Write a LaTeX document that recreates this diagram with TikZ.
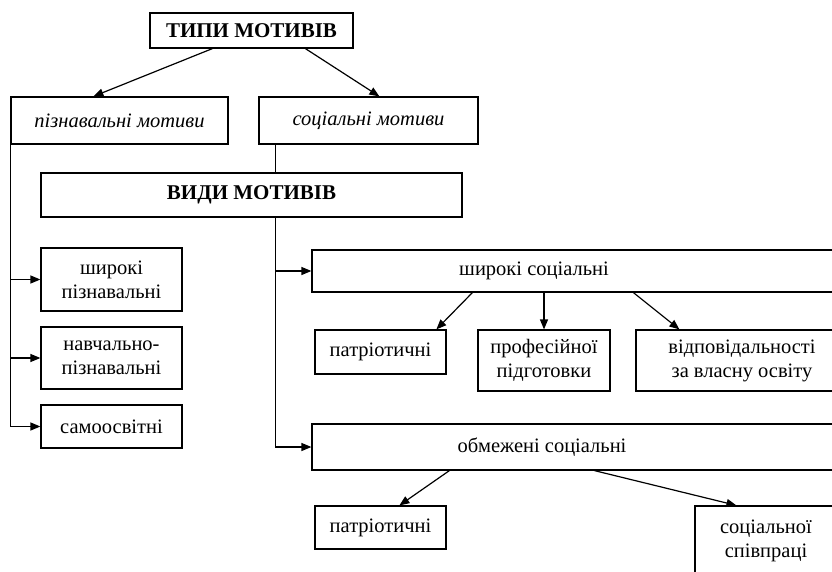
\documentclass[tikz,border=0pt]{standalone}
\usepackage{fontspec}
\setmainfont{Liberation Serif}
\usetikzlibrary{arrows.meta,calc}
\begin{document}
\begin{tikzpicture}[x=1pt,y=-1pt,
  box/.style={draw, line width=1.2pt, inner sep=2pt, align=center, font=\fontsize{20.5}{24}\selectfont},
  big/.style={font=\fontsize{21}{24}\selectfont\bfseries},
  ital/.style={font=\fontsize{20.5}{24}\selectfont\itshape},
  arr/.style={line width=1.2pt, -{Triangle[length=10pt,width=8pt]}},
  ln/.style={line width=1.2pt}]
\clip (0,0) rectangle (832,572);
% level 1
\node[box, big, minimum width=203pt, minimum height=35pt] (tipy) at (251.5,30.5) {ТИПИ МОТИВІВ};
\node[box, ital, minimum width=217pt, minimum height=47pt] (pizn) at (119.5,120.5) {пізнавальні мотиви};
\node[box, ital, minimum width=219pt, minimum height=47pt] (soc) at (368.5,120.5) {соціальні мотиви};
\node[box, big, minimum width=421pt, minimum height=44pt] (vydy) at (251.5,195) {ВИДИ МОТИВІВ};
% left column
\node[box, minimum width=141pt, minimum height=63pt] (shp) at (111.5,279.5) {широкі\\пізнавальні};
\node[box, minimum width=141pt, minimum height=62pt] (nav) at (111.5,358) {навчально-\\пізнавальні};
\node[box, minimum width=141pt, minimum height=43pt] (sam) at (111.5,426.5) {самоосвітні};
% right part
\node[box, inner xsep=0pt, minimum width=558pt, minimum height=42pt] (ws) at (591,271)
  {\makebox[558pt][l]{\makebox[444pt]{широкі соціальні}}};
\node[box, minimum width=131pt, minimum height=44pt] (pat1) at (380.5,352) {патріотичні};
\node[box, minimum width=132pt, minimum height=61pt] (prof) at (544,360.5) {професійної\\підготовки};
\node[box, minimum width=212pt, minimum height=61pt] (vidp) at (742,360.5) {відповідальності\\за власну освіту};
\node[box, inner xsep=0pt, minimum width=558pt, minimum height=46pt] (ob) at (591,447)
  {\makebox[558pt][l]{\makebox[460pt]{обмежені соціальні}}};
\node[box, minimum width=131pt, minimum height=43pt] (pat2) at (380.5,527.5) {патріотичні};
\node[box, minimum width=142pt, minimum height=70pt] (socsp) at (766,541) {соціальної\\співпраці};
% connectors
\draw[arr] ($(tipy.south west)+(63,0)$) -- ($(pizn.north west)+(83,0)$);
\draw[arr] ($(tipy.south west)+(156,0)$) -- ($(soc.north west)+(121,0)$);
\coordinate (sx) at ($(soc.south west)+(17,0)$);
\draw[ln] (sx) -- (sx |- vydy.north);
\coordinate (rx) at (vydy.south -| sx);
\draw[ln] (rx) -- (rx |- ob.west);
\draw[arr] (rx |- ws.west) -- (ws.west);
\draw[arr] (rx |- ob.west) -- (ob.west);
\coordinate (lx) at (pizn.south west);
\draw[ln] (lx) -- (lx |- sam.west);
\draw[arr] (lx |- shp.west) -- (shp.west);
\draw[arr] (lx |- nav.west) -- (nav.west);
\draw[arr] (lx |- sam.west) -- (sam.west);
\draw[arr] ($(ws.south west)+(161,0)$) -- ($(pat1.north west)+(122,0)$);
\draw[arr] (ws.south -| prof.north) -- (prof.north);
\draw[arr] ($(ws.south west)+(322,0)$) -- ($(vidp.north west)+(44,0)$);
\draw[arr] ($(ob.south west)+(138,0)$) -- ($(pat2.north west)+(85,0)$);
\draw[arr] ($(ob.south west)+(283,0)$) -- ($(socsp.north west)+(42,0)$);
\end{tikzpicture}
\end{document}
